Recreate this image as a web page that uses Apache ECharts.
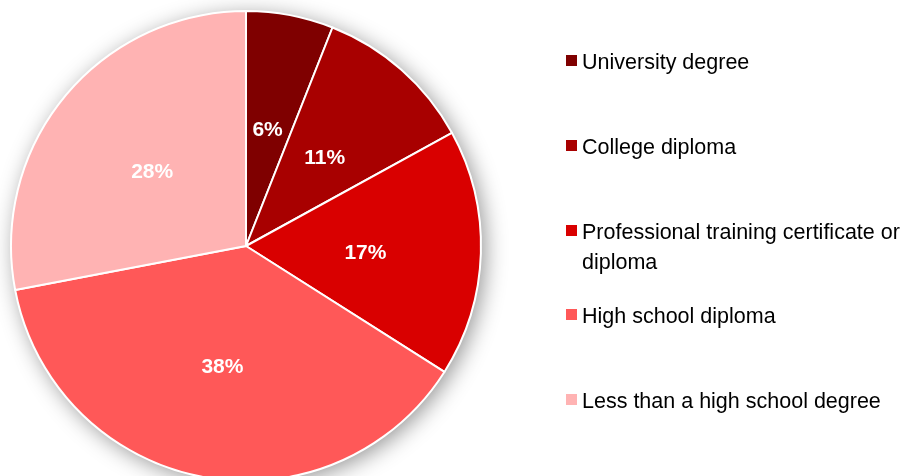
<!DOCTYPE html>
<html>
<head>
<meta charset="utf-8">
<style>
  html, body { margin: 0; padding: 0; background: #ffffff; }
  #chart { width: 910px; height: 476px; }
</style>
<script src="https://cdn.jsdelivr.net/npm/echarts@6/dist/echarts.min.js"></script>
</head>
<body>
<div id="chart"></div>
<script>
// Highest level of education attained (share of respondents, %)
const categories = [
  'University degree',
  'College diploma',
  'Professional training certificate or diploma',
  'High school diploma',
  'Less than a high school degree'
];
const shares = [6, 11, 17, 38, 28];
const sliceColors = ['#7f0000', '#a80000', '#d90000', '#ff5858', '#ffb3b3'];

// legend rows: vertical centre of each marker, in px
const legendRowCentres = [60.5, 145.5, 230.5, 314.5, 399.5];

const FONT = '"Liberation Sans", Arial, Helvetica, sans-serif';
const CENTER = [246, 246];
const RADIUS = 235;
const LEGEND_LINE = 30;

const chart = echarts.init(document.getElementById('chart'), null, { renderer: 'canvas' });

const pieData = categories.map((name, i) => ({
  name: name,
  value: shares[i],
  itemStyle: { color: sliceColors[i] }
}));

// Each legend entry is its own legend so rows can sit on a fixed pitch.
// A spacer line on top nudges the text so its first line lines up with the marker.
const legends = categories.map((name, i) => {
  const twoLine = name.indexOf(' or ') > 0;
  const spacer = twoLine ? 36 : 6;
  const boxH = spacer + (twoLine ? 2 : 1) * LEGEND_LINE;
  return {
    data: [name],
    orient: 'vertical',
    left: 566,
    top: legendRowCentres[i] - boxH / 2,
    padding: 0,
    itemWidth: 11,
    itemHeight: 11,
    icon: 'rect',
    selectedMode: false,
    itemStyle: { borderWidth: 0 },
    formatter: (n) => {
      const lines = twoLine ? n.replace(' or ', ' or\n').split('\n') : [n];
      return '{s| }\n' + lines.map((l) => '{t|' + l + '}').join('\n');
    },
    textStyle: {
      fontFamily: FONT,
      fontSize: 21.5,
      color: '#000000',
      rich: {
        s: { fontSize: 4, lineHeight: spacer, height: spacer },
        t: { fontFamily: FONT, fontSize: 21.5, color: '#000000', lineHeight: LEGEND_LINE }
      }
    }
  };
});

chart.setOption({
  backgroundColor: '#ffffff',
  animation: false,
  legend: legends,
  series: [
    {
      // soft drop shadow behind the whole pie
      type: 'pie',
      silent: true,
      center: CENTER,
      radius: RADIUS,
      label: { show: false },
      labelLine: { show: false },
      legendHoverLink: false,
      data: [{
        value: 1,
        name: '',
        itemStyle: {
          color: '#ffffff',
          shadowBlur: 22,
          shadowColor: 'rgba(0,0,0,0.42)',
          shadowOffsetX: 4,
          shadowOffsetY: 4
        }
      }],
      tooltip: { show: false }
    },
    {
      type: 'pie',
      center: CENTER,
      radius: RADIUS,
      startAngle: 90,
      clockwise: true,
      avoidLabelOverlap: false,
      itemStyle: { borderColor: '#ffffff', borderWidth: 2 },
      label: {
        show: true,
        position: 'inside',
        formatter: '{c}%',
        color: '#ffffff',
        fontFamily: FONT,
        fontWeight: 'bold',
        fontSize: 21,
        offset: [-1, 3]
      },
      labelLine: { show: false },
      emphasis: { disabled: true },
      data: pieData
    }
  ]
});
</script>
</body>
</html>
